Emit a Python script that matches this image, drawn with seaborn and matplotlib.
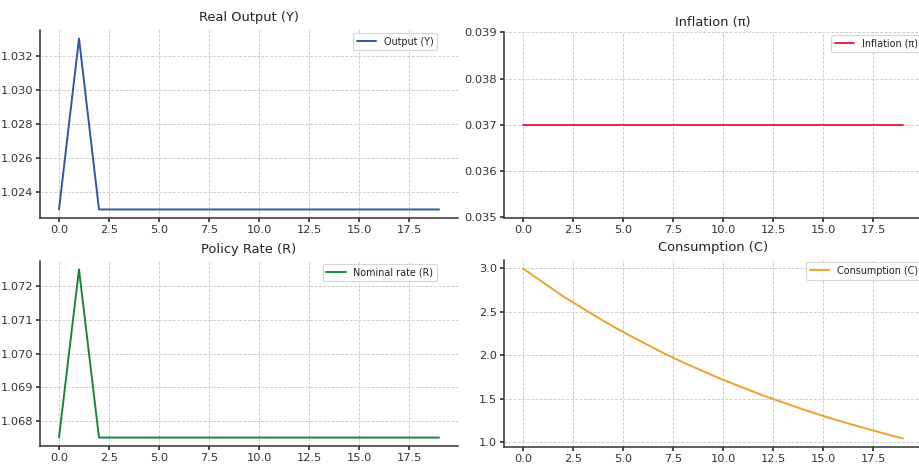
import numpy as np
import pandas as pd
import matplotlib
matplotlib.use("Agg")
import matplotlib.pyplot as plt
import seaborn as sns

# ---- data ----
periods = list(range(20))
output_y = [1.023, 1.033] + [1.023] * 18
inflation_pi = [0.037] * 20
nominal_r = [1.0675, 1.0725] + [1.0675] * 18
consumption_c = [3.00, 2.84, 2.68, 2.54, 2.40, 2.27, 2.15, 2.03, 1.92, 1.82,
                 1.72, 1.63, 1.54, 1.46, 1.38, 1.305, 1.235, 1.17, 1.105, 1.045]

titles = ["Real Output (Y)", "Inflation (π)", "Policy Rate (R)", "Consumption (C)"]
labels = ["Output (Y)", "Inflation (π)", "Nominal rate (R)", "Consumption (C)"]
colors = ["#2f56a6", "#e8283c", "#16873a", "#f0a030"]
series = [output_y, inflation_pi, nominal_r, consumption_c]

sns.set_theme(style="whitegrid")
plt.rcParams.update({
    "font.family": ["DejaVu Sans"],
    "grid.linestyle": "--",
    "grid.color": "#c8c8c8",
    "grid.linewidth": 0.6,
    "axes.edgecolor": "#333333",
    "axes.linewidth": 1.1,
    "xtick.bottom": True,
    "ytick.left": True,
    "xtick.major.size": 3,
    "ytick.major.size": 3,
    "xtick.major.pad": 2,
    "ytick.major.pad": 2,
    "xtick.color": "#333333",
    "ytick.color": "#333333",
    "xtick.labelsize": 8.2,
    "ytick.labelsize": 8.2,
    "text.color": "#222222",
})

W, H = 919, 466
fig = plt.figure(figsize=(W / 100, H / 100), dpi=100)

# axes boxes in pixels: left, top, right, bottom
boxes = [(40, 30, 458, 218), (504, 32, 922, 218),
         (40, 261, 458, 446), (504, 260, 922, 447)]
pads = [6.5, 4.0, 6.0, 6.5]
leg_anchor = [(0.95, 0.985), (1.0, 0.985), (0.95, 0.985), (1.0, 0.99)]

for i, (l, t, r, b) in enumerate(boxes):
    ax = fig.add_axes([l / W, 1 - b / H, (r - l) / W, (b - t) / H])
    df = pd.DataFrame({"t": periods, "v": series[i]})
    sns.lineplot(data=df, x="t", y="v", ax=ax, color=colors[i], lw=1.4, label=labels[i])
    ax.set_title(titles[i], fontsize=9.4, pad=pads[i])
    ax.set_xlabel("")
    ax.set_ylabel("")
    ax.set_xticks([0, 2.5, 5, 7.5, 10, 12.5, 15, 17.5])
    ax.set_xticklabels(["0.0", "2.5", "5.0", "7.5", "10.0", "12.5", "15.0", "17.5"])
    ax.set_xlim(-0.95, 19.95)
    sns.despine(ax=ax)
    for s in ("left", "bottom"):
        ax.spines[s].set_color("#333333")
    leg = ax.legend(loc="upper right", bbox_to_anchor=leg_anchor[i], borderaxespad=0,
                    fontsize=6.9, frameon=True, handlelength=2.0)
    leg.get_frame().set_edgecolor("#cccccc")
    leg.get_frame().set_linewidth(0.8)
    if i == 1:
        ax.set_ylim(0.03498, 0.03901)
        ax.set_yticks([0.035, 0.036, 0.037, 0.038, 0.039])
        ax.set_yticklabels(["0.035", "0.036", "0.037", "0.038", "0.039"])
    if i == 0:
        ax.set_yticks([1.024, 1.026, 1.028, 1.030, 1.032])
        ax.set_yticklabels(["1.024", "1.026", "1.028", "1.030", "1.032"])
    if i == 2:
        ax.set_yticks([1.068, 1.069, 1.070, 1.071, 1.072])
        ax.set_yticklabels(["1.068", "1.069", "1.070", "1.071", "1.072"])
    if i == 3:
        ax.set_yticks([1.0, 1.5, 2.0, 2.5, 3.0])
        ax.set_yticklabels(["1.0", "1.5", "2.0", "2.5", "3.0"])

fig.savefig("out.png", dpi=100)
